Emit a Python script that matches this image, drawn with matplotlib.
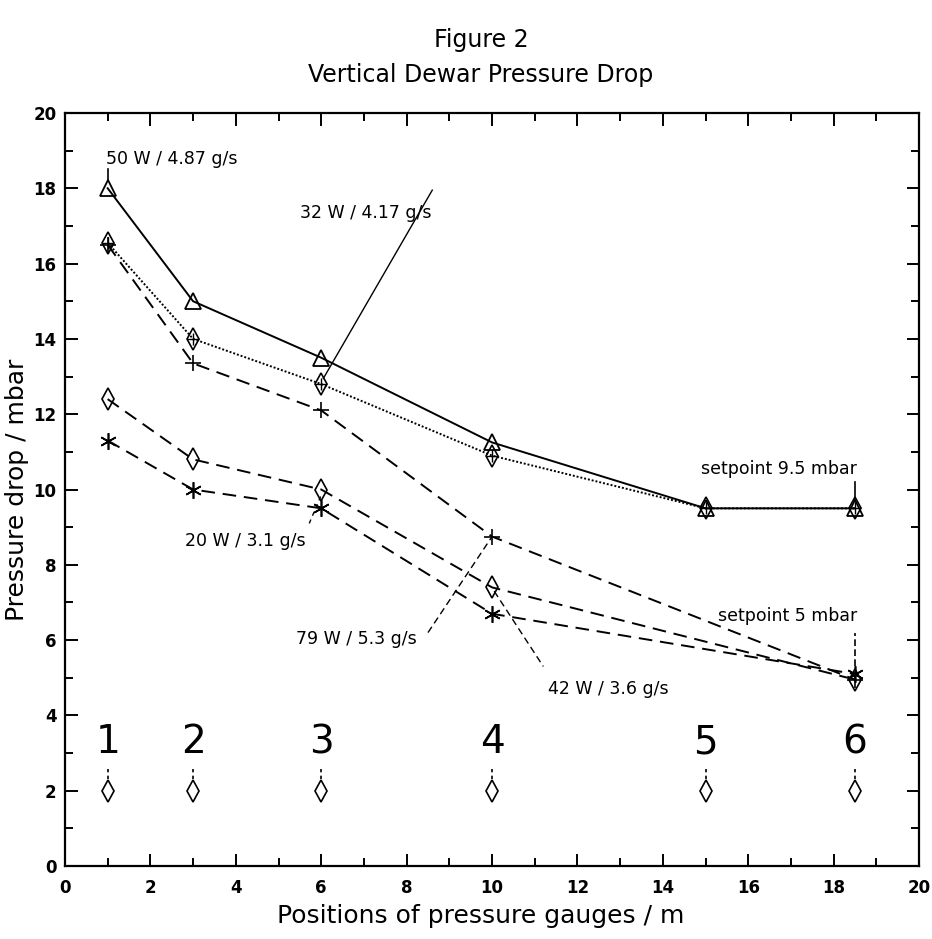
import matplotlib
matplotlib.use('Agg')
import matplotlib.pyplot as plt
from matplotlib.ticker import MultipleLocator

plt.rcParams['font.family'] = ['DejaVu Sans']

# ── data ──
pos_main = [1, 3, 6, 10, 15, 18.5]
pos_low = [1, 3, 6, 10, 18.5]

p_50w = [18.0, 15.0, 13.5, 11.25, 9.5, 9.5]     # 50 W / 4.87 g/s
p_32w = [16.55, 14.0, 12.8, 10.9, 9.5, 9.5]     # 32 W / 4.17 g/s
p_79w = [16.5, 13.35, 12.1, 8.75, 4.95]         # 79 W / 5.3 g/s
p_42w = [12.4, 10.8, 10.0, 7.4, 4.95]           # 42 W / 3.6 g/s
p_20w = [11.3, 10.0, 9.5, 6.7, 5.1]             # 20 W / 3.1 g/s

gauge_pos = [1, 3, 6, 10, 15, 18.5]
gauge_names = ['1', '2', '3', '4', '5', '6']
gauge_y = 2.0

fig = plt.figure(figsize=(9.32, 9.39), dpi=100)
ax = fig.add_axes([0.0697, 0.0777, 0.9165, 0.802])

k = dict(color='black', lw=1.4, mfc='none', mec='black')
ax.plot(pos_main, p_50w, ls='-', marker='^', ms=12, mew=1.3, **k)
ax.plot(pos_main, p_32w, ls=(0, (1, 1)), marker='d', ms=11, mew=1.2, **k)
ax.plot(pos_main, p_32w, ls='none', marker='+', ms=8, mew=1.0, color='black')
ax.plot(pos_low, p_79w, ls=(0, (7, 4)), marker='+', ms=11, mew=1.2, **k)
ax.plot(pos_low, p_42w, ls=(0, (7, 4)), marker='d', ms=11, mew=1.2, **k)
ax.plot(pos_low, p_20w, ls=(0, (7, 4)), marker=(6, 2, 0), ms=12, mew=1.2, **k)

# gauge markers and numbers
ax.plot(gauge_pos, [gauge_y] * len(gauge_pos), ls='none', marker='d', ms=11,
        mew=1.2, mfc='none', mec='black')
for gx, name in zip(gauge_pos, gauge_names):
    ax.plot([gx, gx], [2.3, 2.65], color='black', lw=1.2, ls=(0, (2, 2)))
    ax.text(gx, 3.0, name, ha='center', va='baseline', fontsize=28)

# annotations
fs = 12.5
ax.text(0.95, 18.55, '50 W / 4.87 g/s', fontsize=fs, ha='left', va='bottom')
ax.plot([1, 1], [18.2, 18.5], color='black', lw=1.2)

ax.text(5.5, 17.1, '32 W / 4.17 g/s', fontsize=fs, ha='left', va='bottom')
ax.plot([6.05, 8.6], [12.95, 17.95], color='black', lw=1.0)

ax.text(2.8, 8.4, '20 W / 3.1 g/s', fontsize=fs, ha='left', va='bottom')
ax.plot([5.72, 6.0], [9.1, 9.85], color='black', lw=1.0, ls=(0, (3, 3)))

ax.text(5.4, 5.8, '79 W / 5.3 g/s', fontsize=fs, ha='left', va='bottom')
ax.plot([8.5, 10.0], [6.2, 8.75], color='black', lw=1.0, ls=(0, (5, 3)))

ax.text(11.3, 4.45, '42 W / 3.6 g/s', fontsize=fs, ha='left', va='bottom')
ax.plot([10.05, 11.2], [7.3, 5.3], color='black', lw=1.0, ls=(0, (5, 3)))

ax.text(14.9, 10.3, 'setpoint 9.5 mbar', fontsize=fs, ha='left', va='bottom')
ax.plot([18.5, 18.5], [9.7, 10.2], color='black', lw=1.2)

ax.text(15.3, 6.4, 'setpoint 5 mbar', fontsize=fs, ha='left', va='bottom')
ax.plot([18.5, 18.5], [5.3, 6.2], color='black', lw=1.2, ls=(0, (4, 2)))

ax.set_xlim(0, 20)
ax.set_ylim(0, 20)
ax.xaxis.set_major_locator(MultipleLocator(2))
ax.xaxis.set_minor_locator(MultipleLocator(1))
ax.yaxis.set_major_locator(MultipleLocator(2))
ax.yaxis.set_minor_locator(MultipleLocator(1))
ax.tick_params(which='both', direction='in', top=True, right=True, width=1.4)
ax.tick_params(which='major', length=9, labelsize=12)
ax.tick_params(axis='x', which='major', pad=9)
ax.tick_params(axis='y', which='major', pad=6)
ax.tick_params(which='minor', length=6)
for lab in ax.get_xticklabels() + ax.get_yticklabels():
    lab.set_fontweight('bold')
for spine in ax.spines.values():
    spine.set_linewidth(1.6)

ax.set_xlabel('Positions of pressure gauges / m', fontsize=18)
ax.set_ylabel('Pressure drop / mbar', fontsize=18)
ax.xaxis.set_label_coords(0.487, -0.05)
ax.yaxis.set_label_coords(-0.042, 0.5)

fig.text(0.516, 0.957, 'Figure 2', ha='center', va='center', fontsize=17)
fig.text(0.516, 0.920, 'Vertical Dewar Pressure Drop', ha='center', va='center', fontsize=17)

fig.savefig('out.png', dpi=100)
